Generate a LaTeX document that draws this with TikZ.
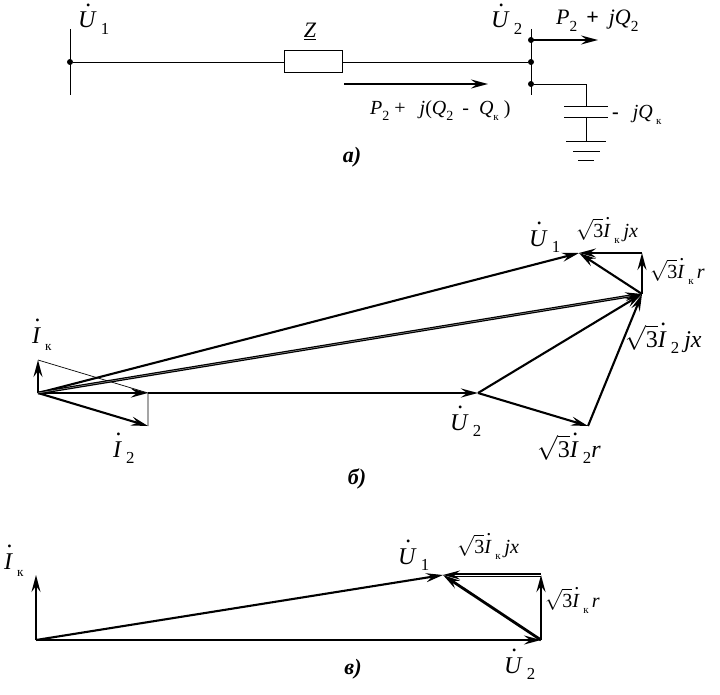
\documentclass[tikz,border=0pt]{standalone}
\usepackage{graphicx}
\usepackage{fontspec}
\setmainfont{Liberation Serif}
\usetikzlibrary{arrows.meta}
\newcommand{\dt}[1]{\ooalign{\textit{#1}\cr\hidewidth\smash{\raisebox{.9em}{\textit{.}}}\kern-.12em\hidewidth\cr}}
\newcommand{\sbs}[1]{\raisebox{-.28em}{\scalebox{.7}{#1}}}
\newcommand{\sbk}{\raisebox{-.3em}{\scalebox{.55}{к}}}
\newcommand{\sq}{$\sqrt{\hbox{3}}$}
\tikzset{
  lbl/.style={inner sep=0pt,font=\fontsize{24}{24}\selectfont},
  lbm/.style={inner sep=0pt,font=\fontsize{22}{22}\selectfont},
  lbs/.style={inner sep=0pt,font=\fontsize{20}{20}\selectfont},
  lbt/.style={inner sep=0pt,font=\fontsize{20}{20}\selectfont},
  figcap/.style={inner sep=0pt,font=\fontsize{22}{22}\selectfont\bfseries\itshape},
  wire/.style={line width=0.9pt},
  fine/.style={line width=0.7pt},
  vec/.style={line width=2.1pt,-{Stealth[length=17pt,width=9pt,inset=6pt]}},
  vecd/.style={line width=2.8pt,-{Stealth[length=17pt,width=9pt,inset=6pt]}},
  vecw/.style={line width=1.35pt,double,double distance=0.25pt,-{Stealth[length=17pt,width=9pt,inset=6pt]}},
  vecg/.style={line width=1.2pt,double,double distance=1pt,-{Stealth[length=17pt,width=9pt,inset=6pt]}},
  vech/.style={line width=2.4pt,-{Stealth[length=17pt,width=9pt,inset=6pt]}},
  junction/.style={circle,fill=black,inner sep=0pt,minimum size=6pt},
  zbox/.style={draw,line width=0.9pt,fill=white,minimum width=58pt,minimum height=22pt,inner sep=0pt}
}
\begin{document}
\begin{tikzpicture}[x=1pt,y=-1pt]
\useasboundingbox (0,0) rectangle (720,695);
% --- a
\coordinate (b1t) at (70,29); \coordinate (b1b) at (70,95);
\coordinate (b2t) at (531,29); \coordinate (b2b) at (531,95);
\node[junction] (n1) at (70,62) {};
\node[junction] (n2) at (531,40) {};
\node[junction] (n3) at (531,62) {};
\node[junction] (n4) at (531,84) {};
\node[zbox] (z) at (313,61) {};
\draw[wire] (b1t) -- (b1b);
\draw[wire] (b2t) -- (b2b);
\draw[wire] (n1) -- (z.west |- n1);
\draw[wire] (z.east |- n3) -- (n3);
\coordinate (p2end) at (598,40);
\draw[vec] (n2.center) -- (p2end);
\coordinate (f1) at (344,84); \coordinate (f2) at (488,84);
\draw[vec] (f1) -- (f2);
\coordinate (c0) at (586,84); \coordinate (c1) at (586,106); \coordinate (c2) at (586,117); \coordinate (c3) at (586,141);
\draw[wire] (n4) -- (c0) -- (c1);
\draw[wire] (c2) -- (c3);
\draw[wire] (564,106) -- (608,106);
\draw[wire] (564,117) -- (608,117);
\draw[wire] (566,141) -- (606,141);
\draw[wire] (573,151) -- (600,151);
\draw[wire] (578,160) -- (594,160);
\node[lbl,anchor=base west] (lu1) at (78,28) {\dt{U}\,\sbs{1}};
\node[lbm,anchor=base] (lz) at (310,38) {\underline{\textit{Z}}};
\node[lbl,anchor=base west] (lu2) at (491,28) {\dt{U}\,\sbs{2}};
\node[lbm,anchor=base west] (lp) at (556,25) {\textit{P}\sbs{2}\hspace{9pt}\textbf{+}\hspace{10pt}\textit{jQ}\sbs{2}};
\node[lbt,anchor=base west] (lp2) at (370,115) {\textit{P}\sbs{2} + \hspace{9pt}\textit{j}(\textit{Q}\sbs{2}\hspace{9pt}-\hspace{10pt}\textit{Q}\sbk\hspace{5pt})};
\node[lbt,anchor=base west] (lq) at (612,119) {\textbf{-}\hspace{14pt}\textit{jQ}\,\sbk};
\node[figcap] (ca) at (352,157) {а)};
% --- b
\coordinate (O) at (38,393);
\coordinate (Ik) at (38,360);
\coordinate (Ia) at (148,393);
\coordinate (I2) at (148,426);
\coordinate (U2) at (478,393);
\coordinate (A) at (642,294);
\coordinate (T) at (642,253);
\coordinate (U1) at (579,253);
\coordinate (R) at (588,426);
\draw[fine] (Ik) -- (Ia) -- (I2);
\draw[vec] (O) -- (Ik);
\draw[vec] (O) -- (I2);
\draw[vecd] (O) -- (Ia);
\draw[vech] (Ia) -- (U2);
\draw[vec] (O) -- (U1);
\draw[vecw] (O) -- (A);
\draw[vec] (U2) -- (A);
\draw[vec] (U2) -- (R);
\draw[vec] (R) -- (A);
\draw[vec] (A) -- (T);
\draw[vec] (T) -- (U1);
\draw[vec] (A) -- (U1);
\node[lbl,anchor=base west] (bu1) at (529,246) {\dt{U}\,\sbs{1}};
\node[lbs,anchor=base west] (bjx) at (576,237) {\sq\dt{I}\,\sbk\hspace{4pt}\textit{jx}};
\node[lbs,anchor=base west] (br) at (650,278) {\sq\dt{I}\,\sbk\,\textit{r}};
\node[lbl,anchor=base west] (b2jx) at (625,347) {\sq\dt{I}\,\sbs{2}\hspace{5pt}\textit{jx}};
\node[lbl,anchor=base west] (b2r) at (537,457) {\sq\dt{I}\,\sbs{2}\textit{r}};
\node[lbl,anchor=base west] (bu2) at (450,430) {\dt{U}\,\sbs{2}};
\node[lbl,anchor=base west] (bi2) at (113,457) {\dt{I}\,\sbs{2}};
\node[lbl,anchor=base west] (bik) at (32,343) {\dt{I}\,\sbk};
\node[figcap] (cb) at (357,479) {б)};
% --- c
\coordinate (O3) at (36,640);
\coordinate (Ik3) at (36,575);
\coordinate (B) at (541,640);
\coordinate (T3) at (541,575);
\coordinate (U3) at (443,575);
\draw[vec] (O3) -- (Ik3);
\draw[vec] (O3) -- (B);
\draw[vec] (O3) -- (U3);
\draw[vecd] (B) -- (T3);
\draw[vecg] (T3) -- (U3);
\draw[vecd] (B) -- (U3);
\node[lbl,anchor=base west] (cu1) at (398,564) {\dt{U}\,\sbs{1}};
\node[lbt,anchor=base west] (cjx) at (457,553) {\sq\dt{I}\,\sbk\hspace{4pt}\textit{jx}};
\node[lbt,anchor=base west] (cr) at (545,607) {\sq\dt{I}\,\sbk\,\textit{r}};
\node[lbl,anchor=base west] (cu2) at (504,673) {\dt{U}\,\sbs{2}};
\node[lbl,anchor=base west] (cik) at (4,569) {\dt{I}\,\sbk};
\node[figcap] (cc) at (353,669) {в)};
\end{tikzpicture}
\end{document}
